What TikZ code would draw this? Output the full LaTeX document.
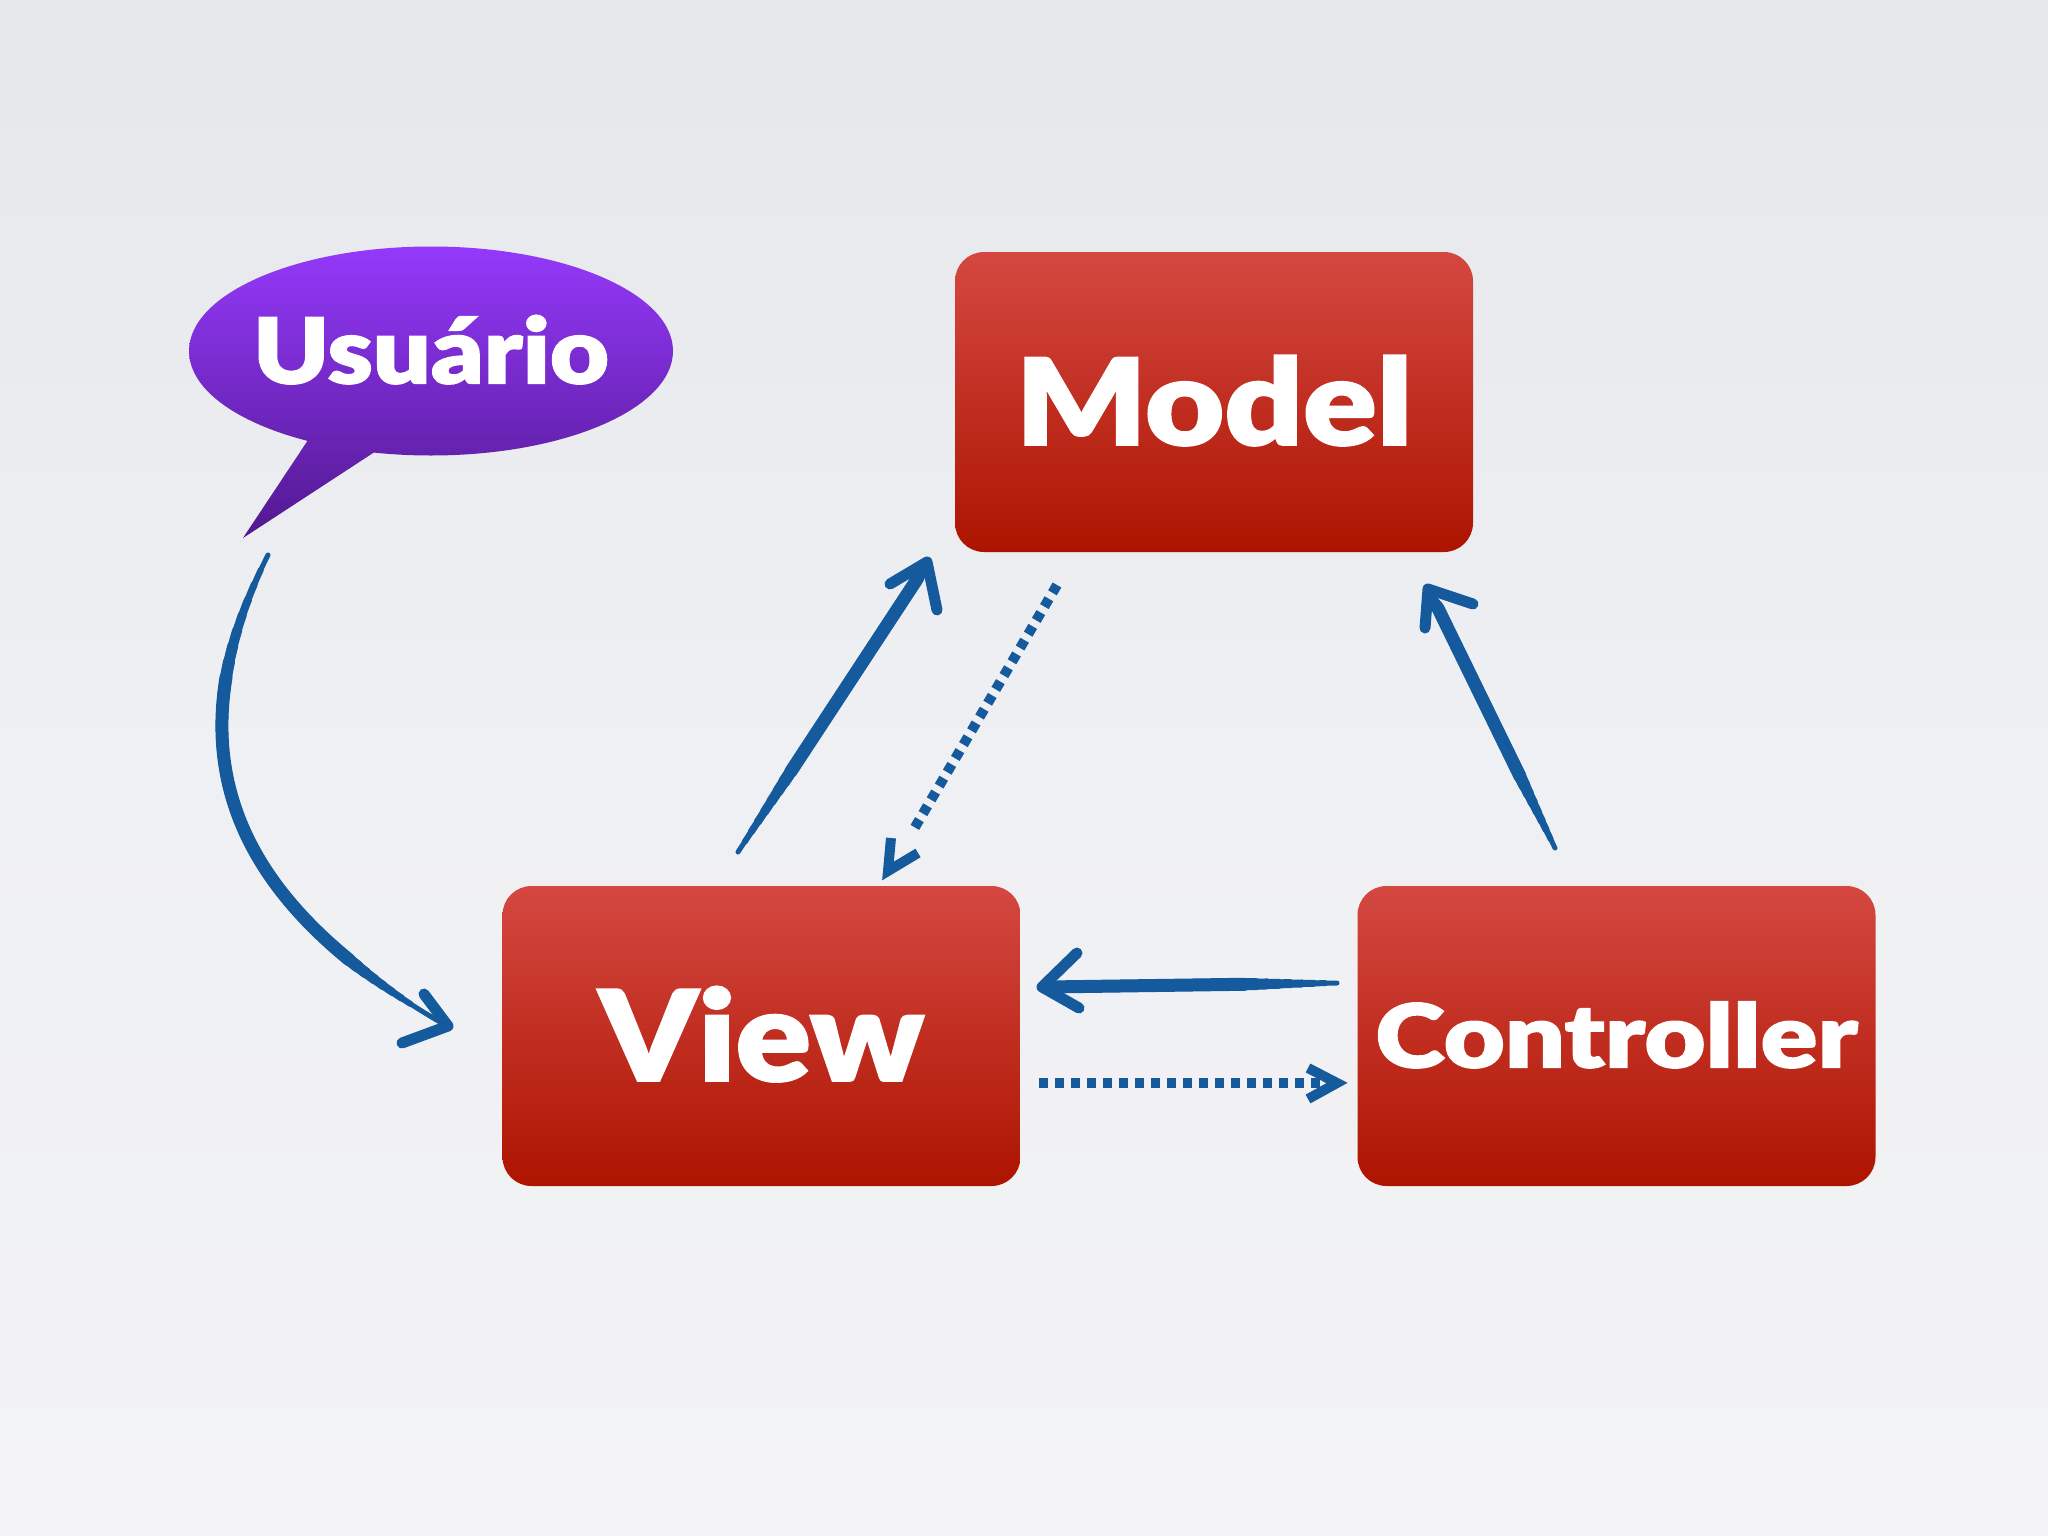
\documentclass[tikz,border=0pt]{standalone}
\usepackage{fontspec}
\newfontfamily\heavyfont{Lato Black}[FakeBold=1.5]
\usetikzlibrary{shapes.geometric,calc}
\definecolor{bgtop}{HTML}{E6E7EB}
\definecolor{bgmid}{HTML}{EFF0F3}
\definecolor{bgbot}{HTML}{F3F3F5}
\definecolor{redtop}{HTML}{D44841}
\definecolor{redbot}{HTML}{AD1400}
\definecolor{purtop}{HTML}{9439FA}
\definecolor{purbot}{HTML}{521890}
\colorlet{purE}{purbot!71.8!purtop}
\colorlet{purT}{purbot!61.2!purtop}
\definecolor{arrowblue}{HTML}{155A9C}
% brush stroke: #1 path, #2 length, #3 tail taper rate, #4 tip taper rate
\newcommand\brushpath[4]{%
  \draw[draw=arrowblue, line cap=round, line width=5pt] #1;
  \foreach \i in {1,...,8}{%
    \pgfmathsetmacro\bwd{5+\i}%
    \pgfmathsetmacro\bst{#2*#3*\i}%
    \pgfmathsetmacro\bon{#2*(1-#3*\i-#4*\i)}%
    \pgfmathsetmacro\bph{\bon+3000-\bst}%
    \draw[draw=arrowblue, line cap=round, line width=\bwd pt,
      dash pattern=on \bon pt off 3000pt, dash phase=\bph pt] #1;
  }}
\begin{document}
\begin{tikzpicture}[x=1pt,y=-1pt,
  box/.style={rectangle, rounded corners=29pt, minimum width=518pt, minimum height=300pt,
    top color=redtop, bottom color=redbot, text=white, inner sep=0pt, text depth=0pt},
  barb/.style={draw=arrowblue, line width=11pt, line cap=round, line join=round},
  dotline/.style={draw=arrowblue, line width=10pt, dash pattern=on 9pt off 7pt},
  dothead/.style={draw=arrowblue, line width=10pt, line join=miter, line cap=butt}]
\useasboundingbox (0,0) rectangle (2048,1536);
\shade[top color=bgtop, bottom color=bgbot, middle color=bgmid] (0,0) rectangle (2048,1536);

% boxes
\node[box, text height=86pt] (model) at (1214,402)
  {\heavyfont\fontsize{120}{125}\selectfont\scalebox{1.14}[1]{Model}};
\node[box, text height=90pt] (view) at (761.5,1036)
  {\heavyfont\fontsize{126}{130}\selectfont\scalebox{1.11}[1]{View}};
\node[box, text height=63pt] (controller) at (1616.5,1036)
  {\heavyfont\fontsize{88}{92}\selectfont\scalebox{1.2}[1]{Controller}};

% speech bubble
\shade[top color=purT, bottom color=purbot] (318,425) -- (243,538) -- (393,440) -- cycle;
\node[ellipse, minimum width=484pt, minimum height=209pt, inner sep=0pt,
  top color=purtop, bottom color=purE] (user) at (431,351) {};
\node[text=white, inner sep=0pt, text height=65pt, text depth=0pt] (usertext) at (user.center)
  {\heavyfont\fontsize{91}{95}\selectfont\scalebox{1.12}[1]{Usuário}};

% coordinates for connector ends
\coordinate (u-s) at (268,555);
\coordinate (u-e) at (440,1022);
\coordinate (u-tip) at (448,1026);
\coordinate (vm-s) at (738,852);
\coordinate (vm-tip) at (927,564);
\coordinate (mv-s) at (1057,585);
\coordinate (mv-e) at (914.8,827.5);
\coordinate (mv-tip) at (888,871);
\coordinate (cv-s) at (1337,983);
\coordinate (cv-tip) at (1047,987);
\coordinate (vc-s) at (1039,1083);
\coordinate (vc-e) at (1320,1083);
\coordinate (vc-tip) at (1337,1083);
\coordinate (cm-s) at (1555,848);
\coordinate (cm-tip) at (1430,592);

% Usuario -> View (curved sketch)
\brushpath{(u-s) .. controls (165,760) and (240,905) .. (u-e)}{541}{0.03}{0.02}
\draw[barb] (424,994) -- (u-tip) -- (402,1043);

% View -> Model (sketch)
\brushpath{(vm-s) -- (vm-tip)}{344}{0.035}{0.006}
\draw[barb] (890,584) -- (927,562) -- (937,610);

% Model -> View (dotted)
\draw[dotline] (mv-s) -- (mv-e);
\draw[dothead] (891,838) -- (mv-tip) -- (918,853);

% Controller -> View (sketch)
\brushpath{(cv-s) -- (cv-tip)}{290}{0.04}{0.005}
\draw[barb] (1077,953) -- (1042,987) -- (1079,1008);

% View -> Controller (dotted)
\draw[dotline] (vc-s) -- (vc-e);
\draw[dothead] (1308,1068) -- (vc-tip) -- (1308,1099);

% Controller -> Model (sketch)
\brushpath{(cm-s) -- (cm-tip)}{285}{0.035}{0.008}
\draw[barb] (1425,628) -- (1428,589) -- (1473,604);
\end{tikzpicture}
\end{document}
